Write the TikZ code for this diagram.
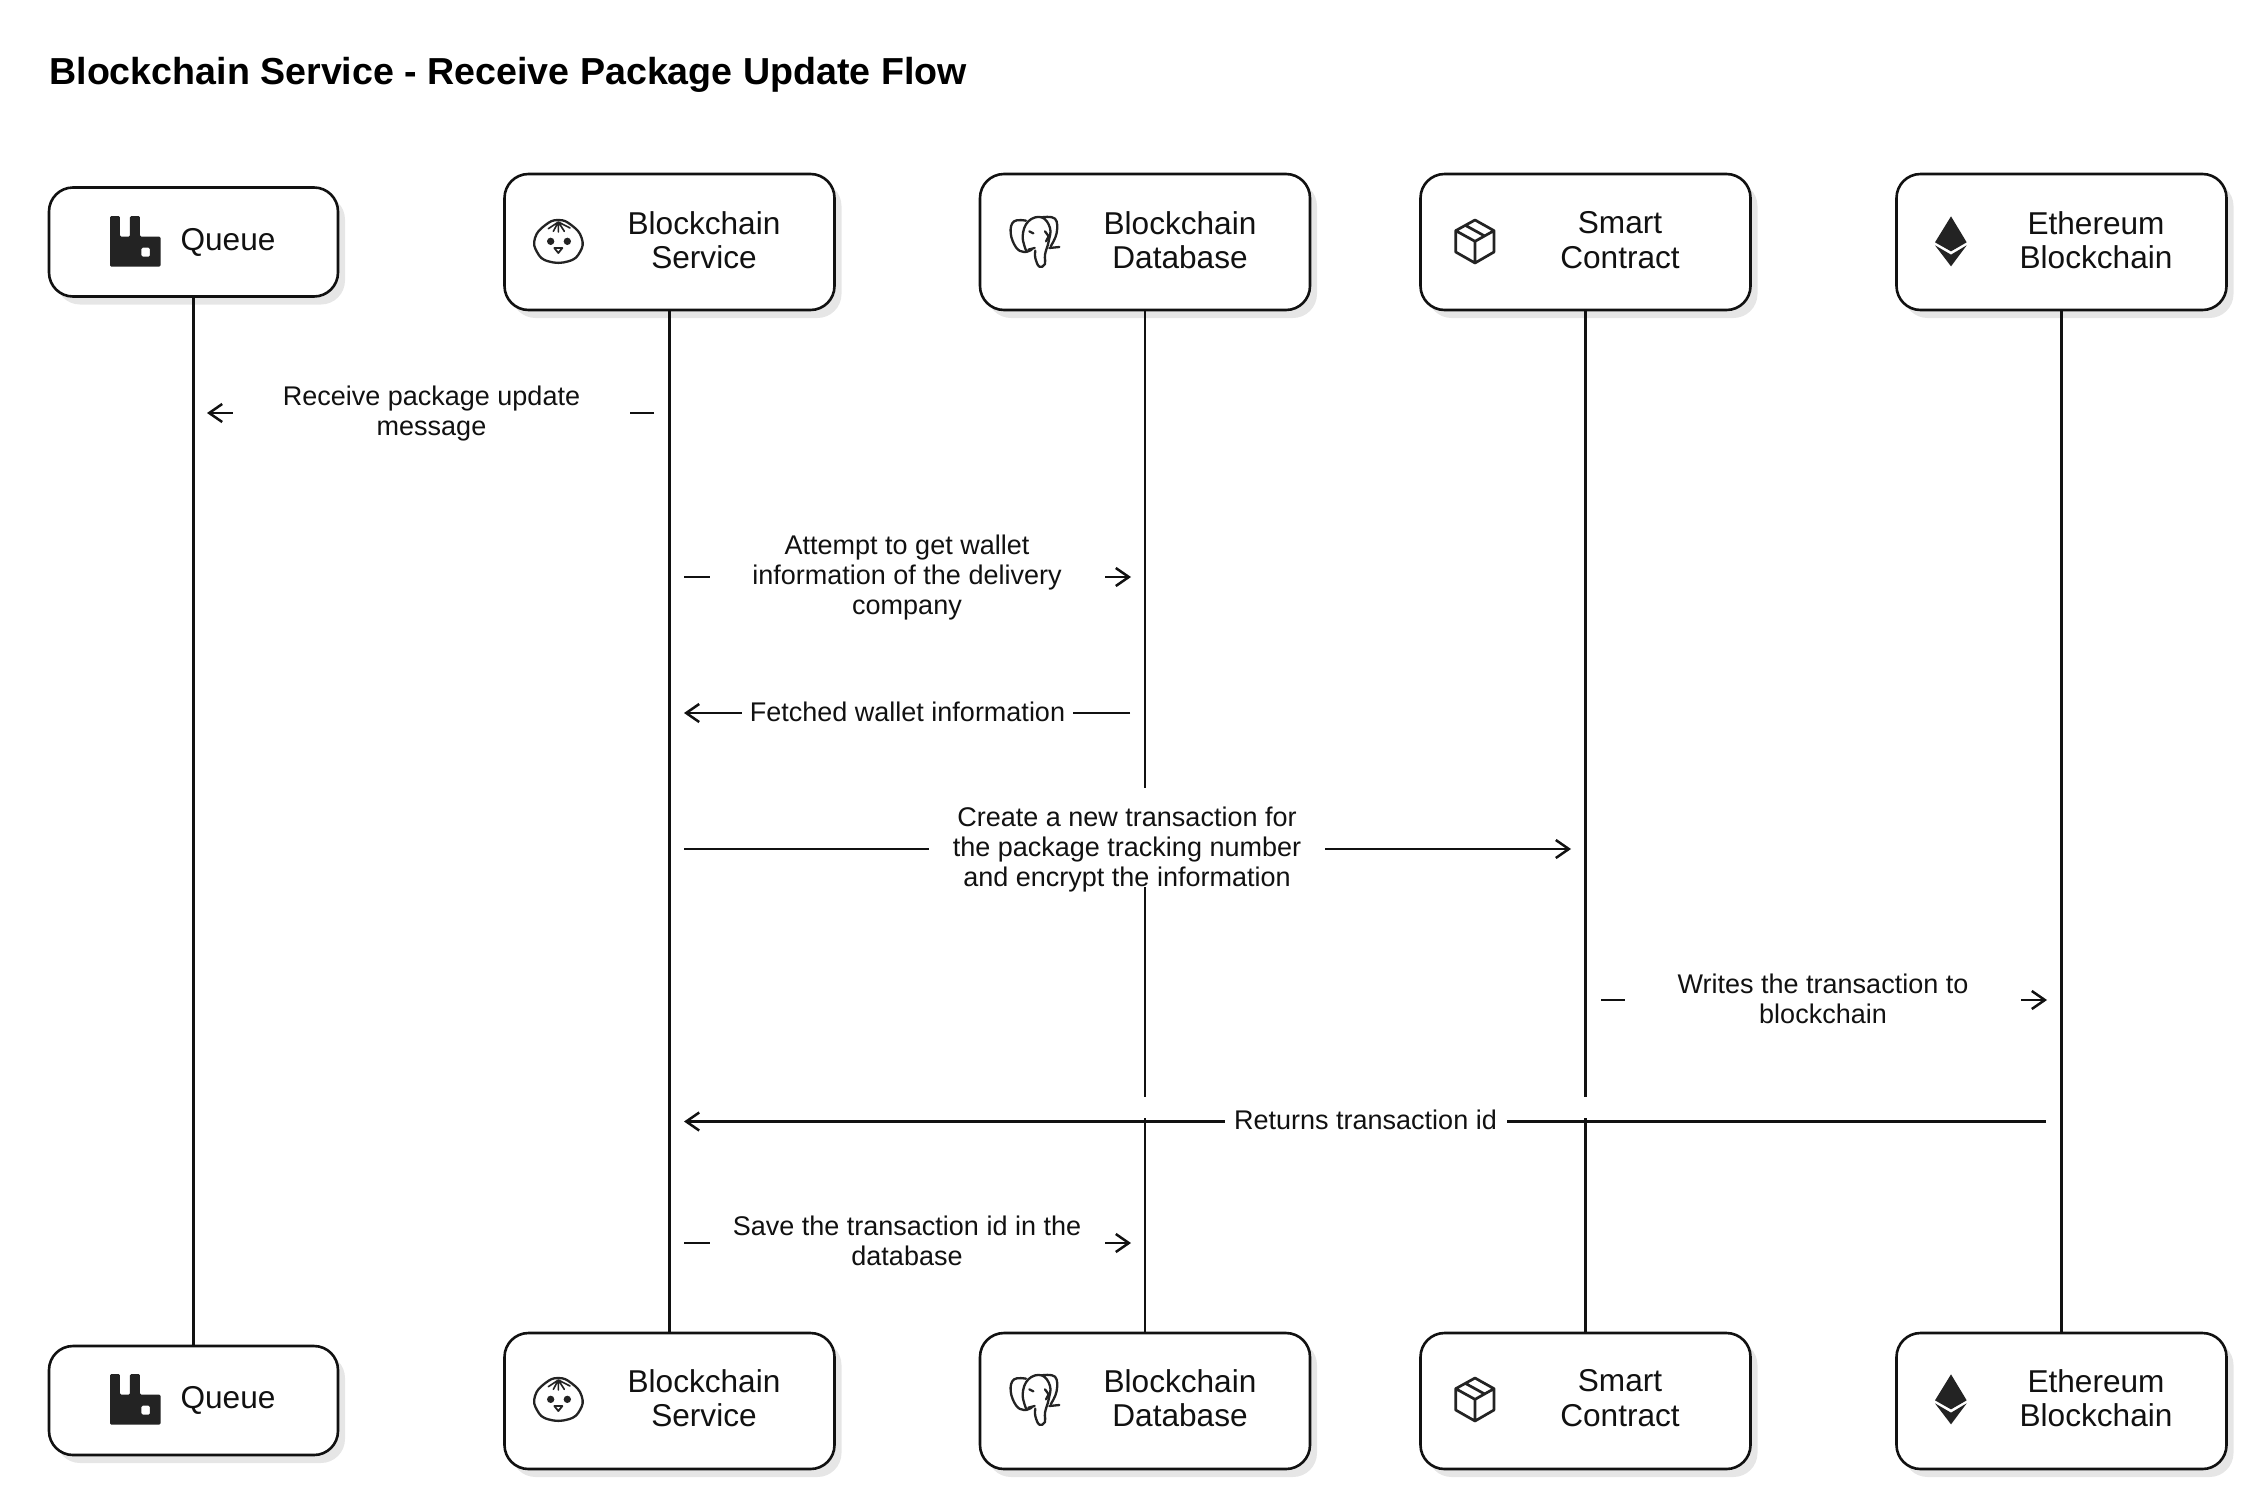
\documentclass[tikz,border=0pt]{standalone}
\usepackage{fontspec}
\setmainfont{Liberation Sans}
\usetikzlibrary{arrows.meta,shadows}
\definecolor{ink}{HTML}{111111}
\definecolor{iconink}{HTML}{232323}
\definecolor{shade}{HTML}{E6E6E6}
\tikzset{
  x=0.5pt,y=-0.5pt,
  boxbase/.style={draw=ink,fill=white,line width=1.3pt,rounded corners=12pt,inner sep=0pt,
    drop shadow={shadow xshift=3.5pt,shadow yshift=-4pt,fill=shade,opacity=1}},
  bigbox/.style={boxbase,minimum width=165pt,minimum height=68pt},
  smallbox/.style={boxbase,minimum width=144.5pt,minimum height=54.5pt},
  boxtext/.style={inner sep=0pt,align=center,text=ink,font=\fontsize{15.8}{17.2}\selectfont},
  lifeline/.style={draw=ink,line width=1.15pt},
  msg/.style={draw=ink,line width=1.25pt,-{Straight Barb[length=6.5pt,width=9pt,line width=1.25pt]}},
  msglabel/.style={fill=white,inner sep=0pt,align=center,text=ink,font=\fontsize{13.5}{15}\selectfont},
  icondark/.style={fill=iconink,draw=none},
  iconline/.style={draw=iconink,line width=1.15pt,line join=round,line cap=round},
  rabbiticon/.pic={
    \begin{scope}[scale=0.3333]
      \path[icondark,even odd rule,rounded corners=0.7pt]
        (30,185) -- (30,33) -- (60,33) -- (60,95) -- (90,95) -- (90,33) -- (120,33) -- (120,95)
        -- (182,95) -- (182,185) -- cycle
        (124,128) -- (150,128) -- (150,155) -- (124,155) -- cycle;
    \end{scope}},
  dumplingicon/.pic={
    \begin{scope}[scale=0.3333]
      \draw[iconline] plot[smooth cycle,tension=0.8] coordinates
        {(100,36) (60,52) (30,90) (36,132) (70,160) (130,160) (165,132) (170,90) (140,52)};
      \draw[iconline,line width=0.8pt] (100,42) -- (70,62) (100,42) -- (85,70) (100,42) -- (100,72)
        (100,42) -- (118,70) (100,42) -- (135,60);
      \fill[iconink] (77,100) circle[radius=11] (127,100) circle[radius=11];
      \draw[iconline,line width=0.9pt] (88,120) -- (112,120) -- (100,135) -- cycle;
    \end{scope}},
  elephanticon/.pic={
    \begin{scope}[scale=0.3333]
      \draw[iconline] plot[smooth,tension=0.7] coordinates
        {(78,38) (42,40) (32,75) (48,118) (72,132) (95,125)};
      \draw[iconline] plot[smooth,tension=0.7] coordinates
        {(80,132) (68,85) (85,40) (125,28) (150,60) (146,100) (135,140) (135,168) (118,176) (106,150) (106,128)};
      \draw[iconline] plot[smooth,tension=0.7] coordinates
        {(125,28) (165,32) (170,75) (152,115)};
      \draw[iconline] (148,120) -- (178,117) (85,125) -- (104,120) (88,70) -- (100,76) (135,70) -- (146,85) -- (138,100);
    \end{scope}},
  packageicon/.pic={
    \begin{scope}[scale=0.3333]
      \draw[iconline,line width=1.35pt] (105,36) -- (162,68) -- (162,132) -- (105,165) -- (47,132) -- (47,68) -- cycle
        (47,68) -- (105,100) -- (162,68) (105,100) -- (105,165) (76,52) -- (134,84);
    \end{scope}},
  ethericon/.pic={
    \begin{scope}[scale=0.3333]
      \fill[iconink] (108,25) -- (155,103) -- (108,130) -- (60,103) -- cycle;
      \fill[iconink] (60,112) -- (108,140) -- (155,112) -- (108,175) -- cycle;
    \end{scope}},
}
\begin{document}
\begin{tikzpicture}
\useasboundingbox (0,0) rectangle (2248,1489);

\node[anchor=base west,inner sep=0pt,text=black,font=\fontsize{18.8}{20}\selectfont\bfseries] (title) at (49,84)
  {Blockchain Service - Receive Package Update Flow};

% message endpoints
\coordinate (m1a) at (654,413);  \coordinate (m1b) at (207,413);
\coordinate (m2a) at (684,577);  \coordinate (m2b) at (1131,577);
\coordinate (m3a) at (1130,713); \coordinate (m3b) at (684,713);
\coordinate (m4a) at (684,849);  \coordinate (m4b) at (1571,849);
\coordinate (m5a) at (1601,1000); \coordinate (m5b) at (2047,1000);
\coordinate (m6a) at (2046,1121.5); \coordinate (m6b) at (684,1121.5);
\coordinate (m7a) at (684,1243); \coordinate (m7b) at (1131,1243);

% messages
\draw[msg] (m1a) -- (m1b);
\draw[msg] (m2a) -- (m2b);
\draw[msg] (m3a) -- (m3b);
\draw[msg] (m4a) -- (m4b);
\draw[msg] (m5a) -- (m5b);
\draw[msg] (m6a) -- (m6b);
\draw[msg] (m7a) -- (m7b);

\node[msglabel,minimum width=198.5pt] (l1) at (431.5,414) {Receive package update\\message};
\node[msglabel,minimum width=197.5pt] (l2) at (907,578) {Attempt to get wallet\\information of the delivery\\company};
\node[msglabel,minimum width=165.5pt] (l3) at (907.5,711.5) {Fetched wallet information};
\node[msglabel,minimum width=198pt]   (l4) at (1127,850) {Create a new transaction for\\the package tracking number\\and encrypt the information};
\node[msglabel,minimum width=198pt]   (l5) at (1823,999) {Writes the transaction to\\blockchain};
\node[msglabel,minimum width=141pt]   (l6) at (1365.5,1119.5) {Returns transaction id};
\node[msglabel,minimum width=197.5pt] (l7) at (907,1241) {Save the transaction id in the\\database};

% boxes
\node[smallbox] (q1) at (193.5,242) {};
\node[bigbox]   (s1) at (669.5,242) {};
\node[bigbox]   (d1) at (1145,242) {};
\node[bigbox]   (c1) at (1585.5,242) {};
\node[bigbox]   (e1) at (2061.5,242) {};
\node[smallbox] (q2) at (193.5,1400.5) {};
\node[bigbox]   (s2) at (669.5,1401) {};
\node[bigbox]   (d2) at (1145,1401) {};
\node[bigbox]   (c2) at (1585.5,1401) {};
\node[bigbox]   (e2) at (2061.5,1401) {};

% lifelines
\coordinate (dga) at (d1.south |- 0,788);
\coordinate (dgb) at (d1.south |- 0,887);
\coordinate (dgc) at (d1.south |- 0,1097);
\coordinate (dgd) at (d1.south |- 0,1118);
\coordinate (cga) at (c1.south |- 0,1097);
\coordinate (cgb) at (c1.south |- 0,1118);
\draw[lifeline] (q1.south) -- (q2.north);
\draw[lifeline] (s1.south) -- (s2.north);
\draw[lifeline] (d1.south) -- (dga);
\draw[lifeline] (dgb) -- (dgc);
\draw[lifeline] (dgd) -- (d2.north);
\draw[lifeline] (c1.south) -- (cga);
\draw[lifeline] (cgb) -- (c2.north);
\draw[lifeline] (e1.south) -- (e2.north);

% box texts and icons
\foreach \off/\tag in {0/a,1158/b}{
  \node[boxtext] (tq\tag) at (228,242.5+\off) {Queue};
  \node[boxtext] (ts\tag) at (704,240+\off) {Blockchain\\Service};
  \node[boxtext] (td\tag) at (1180,240+\off) {Blockchain\\Database};
  \node[boxtext] (tc\tag) at (1620,240+\off) {Smart\\Contract};
  \node[boxtext] (te\tag) at (2096,240+\off) {Ethereum\\Blockchain};
  \pic at (100,205+\off) {rabbiticon};
  \pic at (525,208+\off) {dumplingicon};
  \pic at (1000,208+\off) {elephanticon};
  \pic at (1440,208+\off) {packageicon};
  \pic at (1915,208+\off) {ethericon};
}
\end{tikzpicture}
\end{document}
